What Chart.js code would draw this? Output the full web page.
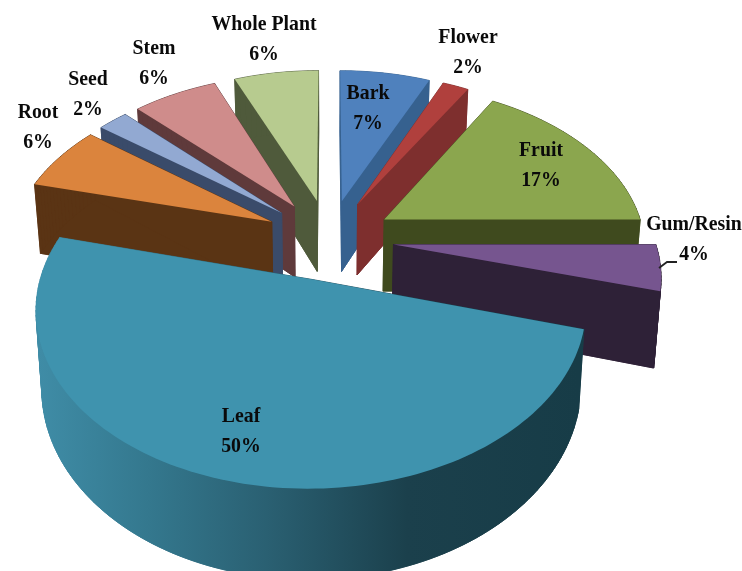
<!DOCTYPE html>
<html>
<head>
<meta charset="utf-8">
<style>html,body{margin:0;padding:0;background:#fff}canvas{display:block}</style>
<script src="https://cdn.jsdelivr.net/npm/chart.js@4"></script>
</head>
<body>
<canvas id="c" width="742" height="571"></canvas>
<script>
const categories = ["Bark","Flower","Fruit","Gum/Resin","Leaf","Root","Seed","Stem","Whole Plant"];
const shares = [6.6,1.9,16.5,4.4,49.6,6.4,2.2,6.2,6.2];
const topColors = ["#4f81bd","#b0403d","#8ba64e","#76558f","#3f93ae","#db843d","#92a9d2","#cf8c8b","#b7cb8f"];
const sideColors = ["#36618f","#7e2f2e","#3f4a1e","#2e2137",null,"#5a3414","#3a4b6a","#5f3a3b","#4f5a3b"];
const labelAnchors = [[368,93],[468,37],[541,150],[694,224],[241,416],[38,112],[88,79],[154,48],[264,24]];
const lineGap = 30;
const textSqueeze = 0.92;
const explode = 63;               // slice pull-out in the library's pixels
const view = {cx:329, cy:239, sx:261, sy:162, k:0.158, depth:73, shrink:0.98};

function project(X, Y){
  const w = 1 - view.k*Y;
  return {x:view.cx + view.sx*X/w, y:view.cy + view.sy*Y/w, w};
}
function lower(p){
  return {x:view.cx + (p.x-view.cx)*view.shrink, y:p.y + view.depth/p.w};
}
function leafSide(ctx){
  const g = ctx.createLinearGradient(40,0,580,0);
  g.addColorStop(0,"#3f8ca6");
  g.addColorStop(0.2,"#34788e");
  g.addColorStop(0.42,"#2a6072");
  g.addColorStop(0.68,"#1b404c");
  g.addColorStop(1,"#173c47");
  return g;
}
function slicePath(arc){
  const p = arc.getProps(["startAngle","endAngle","outerRadius"]);
  const R = p.outerRadius, mid = (p.startAngle+p.endAngle)/2;
  const e = arc.options.offset/R;
  const ox = Math.cos(mid)*e, oy = Math.sin(mid)*e;
  const pts = [project(ox,oy)];
  const n = Math.max(2, Math.ceil((p.endAngle-p.startAngle)/0.025));
  for(let i=0;i<=n;i++){
    const a = p.startAngle + (p.endAngle-p.startAngle)*i/n;
    pts.push(project(ox+Math.cos(a), oy+Math.sin(a)));
  }
  return {pts, mid};
}
function fillPoly(ctx, pts, style, stroke){
  ctx.beginPath();
  pts.forEach((q,i)=> i? ctx.lineTo(q.x,q.y): ctx.moveTo(q.x,q.y));
  ctx.closePath();
  ctx.fillStyle = style;
  ctx.fill();
  if(stroke){ctx.strokeStyle = style; ctx.lineWidth = 0.8; ctx.stroke();}
}
const pie3d = {
  id:"pie3d",
  beforeDatasetDraw(chart){
    const ctx = chart.ctx;
    const arcs = chart.getDatasetMeta(0).data.map((arc,i)=>({i, ...slicePath(arc)}));
    arcs.sort((a,b)=> Math.sin(a.mid)-Math.sin(b.mid));
    ctx.save();
    for(const s of arcs){
      const side = sideColors[s.i] || leafSide(ctx);
      const low = s.pts.map(lower);
      fillPoly(ctx, low, side, true);
      for(let j=0;j<s.pts.length;j++){
        const k = (j+1)%s.pts.length;
        fillPoly(ctx,[s.pts[j],s.pts[k],low[k],low[j]],side,true);
      }
      fillPoly(ctx, s.pts, topColors[s.i], false);
    }
    ctx.restore();
    return false;
  },
  afterDatasetsDraw(chart){
    const ctx = chart.ctx;
    ctx.save();
    ctx.fillStyle = "#0a0a0a";
    ctx.font = "bold 21.5px 'Liberation Serif'";
    ctx.textAlign = "center";
    ctx.textBaseline = "middle";
    categories.forEach((name,i)=>{
      const [x,y] = labelAnchors[i];
      ctx.save();
      ctx.translate(x,y);
      ctx.scale(textSqueeze,1);
      ctx.fillText(name,0,0);
      ctx.fillText(Math.round(shares[i])+"%",0,lineGap);
      ctx.restore();
    });
    ctx.strokeStyle = "#222";
    ctx.lineWidth = 1.8;
    ctx.beginPath();
    ctx.moveTo(659,268);ctx.lineTo(667,262);ctx.lineTo(677,262);
    ctx.stroke();
    ctx.restore();
  }
};
new Chart(document.getElementById("c"),{
  type:"pie",
  data:{labels:categories,datasets:[{data:shares,backgroundColor:topColors,borderWidth:0,offset:explode}]},
  options:{
    responsive:false,
    animation:false,
    devicePixelRatio:1,
    plugins:{legend:{display:false},tooltip:{enabled:false}}
  },
  plugins:[pie3d]
});
</script>
</body>
</html>
